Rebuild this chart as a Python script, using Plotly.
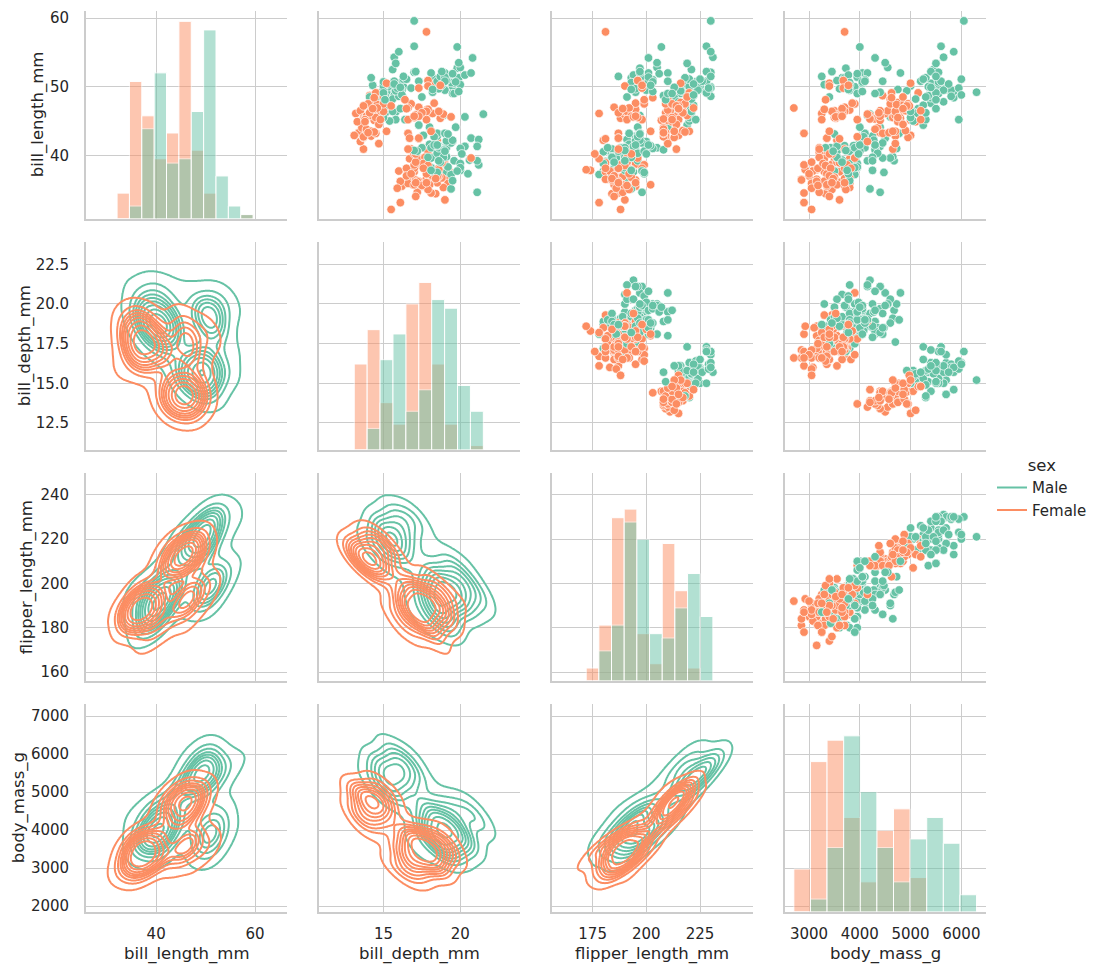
import numpy as np
import plotly.graph_objects as go

# ---------------- data (Adelie, then Gentoo, then Chinstrap rows) ----------------
bill_length_mm = [
    39.1, 39.5, 40.3, 36.7, 39.3, 38.9, 39.2, 41.1, 38.6, 34.6,
    36.6, 38.7, 42.5, 34.4, 46.0, 37.8, 37.7, 35.9, 38.2, 38.8,
    35.3, 40.6, 40.5, 37.9, 40.5, 39.5, 37.2, 39.5, 40.9, 36.4,
    39.2, 38.8, 42.2, 37.6, 39.8, 36.5, 40.8, 36.0, 44.1, 37.0,
    39.6, 41.1, 36.0, 42.3, 39.6, 40.1, 35.0, 42.0, 34.5, 41.4,
    39.0, 40.6, 36.5, 37.6, 35.7, 41.3, 37.6, 41.1, 36.4, 41.6,
    35.5, 41.1, 35.9, 41.8, 33.5, 39.7, 39.6, 45.8, 35.5, 42.8,
    40.9, 37.2, 36.2, 42.1, 34.6, 42.9, 36.7, 35.1, 37.3, 41.3,
    36.3, 36.9, 38.3, 38.9, 35.7, 41.1, 34.0, 39.6, 36.2, 40.8,
    38.1, 40.3, 33.1, 43.2, 35.0, 41.0, 37.7, 37.8, 37.9, 39.7,
    38.6, 38.2, 38.1, 43.2, 38.1, 45.6, 39.7, 42.2, 39.6, 42.7,
    38.6, 37.3, 35.7, 41.1, 36.2, 37.7, 40.2, 41.4, 35.2, 40.6,
    38.8, 41.5, 39.0, 44.1, 38.5, 43.1, 36.8, 37.5, 38.1, 41.1,
    35.6, 40.2, 37.0, 39.7, 40.2, 40.6, 32.1, 40.7, 37.3, 39.0,
    39.2, 36.6, 36.0, 37.8, 36.0, 41.5,
    46.1, 50.0, 48.7, 50.0, 47.6, 46.5, 45.4, 46.7, 43.3, 46.8,
    40.9, 49.0, 45.5, 48.4, 45.8, 49.3, 42.0, 49.2, 46.2, 48.7,
    50.2, 45.1, 46.5, 46.3, 42.9, 46.1, 47.8, 48.2, 50.0, 47.3,
    42.8, 45.1, 59.6, 49.1, 48.4, 42.6, 44.4, 44.0, 48.7, 42.7,
    49.6, 45.3, 49.6, 50.5, 43.6, 45.5, 50.5, 44.9, 45.2, 46.6,
    48.5, 45.1, 50.1, 46.5, 45.0, 43.8, 45.5, 43.2, 50.4, 45.3,
    46.2, 45.7, 54.3, 45.8, 49.8, 49.5, 43.5, 50.7, 47.7, 46.4,
    48.2, 46.5, 46.4, 48.6, 47.5, 51.1, 45.2, 45.2, 49.1, 52.5,
    47.4, 50.0, 44.9, 50.8, 43.4, 51.3, 47.5, 52.1, 47.5, 52.2,
    45.5, 49.5, 44.5, 50.8, 49.4, 46.9, 48.4, 51.1, 48.5, 55.9,
    47.2, 49.1, 46.8, 41.7, 53.4, 43.3, 48.1, 50.5, 49.8, 43.5,
    51.5, 46.2, 55.1, 48.8, 47.2, 46.8, 50.4, 45.2, 49.9,
    46.5, 50.0, 51.3, 45.4, 52.7, 45.2, 46.1, 51.3, 46.0, 51.3,
    46.6, 51.7, 47.0, 52.0, 45.9, 50.5, 50.3, 58.0, 46.4, 49.2,
    42.4, 48.5, 43.2, 50.6, 46.7, 52.0, 50.5, 49.5, 46.4, 52.8,
    40.9, 54.2, 42.5, 51.0, 49.7, 47.5, 47.6, 52.0, 46.9, 53.5,
    49.0, 46.2, 50.9, 45.5, 50.9, 50.8, 50.1, 49.0, 51.5, 49.8,
    48.1, 51.4, 45.7, 50.7, 42.5, 52.2, 45.2, 49.3, 50.2, 45.6,
    51.9, 46.8, 45.7, 55.8, 43.5, 49.6, 50.8, 50.2,
]

bill_depth_mm = [
    18.7, 17.4, 18.0, 19.3, 20.6, 17.8, 19.6, 17.6, 21.2, 21.1,
    17.8, 19.0, 20.7, 18.4, 21.5, 18.3, 18.7, 19.2, 18.1, 17.2,
    18.9, 18.6, 17.9, 18.6, 18.9, 16.7, 18.1, 17.8, 18.9, 17.0,
    21.1, 20.0, 18.5, 19.3, 19.1, 18.0, 18.4, 18.5, 19.7, 16.9,
    18.8, 19.0, 17.9, 21.2, 17.7, 18.9, 17.9, 19.5, 18.1, 18.6,
    17.5, 18.8, 16.6, 19.1, 16.9, 21.1, 17.0, 18.2, 17.1, 18.0,
    16.2, 19.1, 16.6, 19.4, 19.0, 18.4, 17.2, 18.9, 17.5, 18.5,
    16.8, 19.4, 16.1, 19.1, 17.2, 17.6, 18.8, 19.4, 17.8, 20.3,
    19.5, 18.6, 19.2, 18.8, 18.0, 18.1, 17.1, 18.1, 17.3, 18.9,
    18.6, 18.5, 16.1, 18.5, 17.9, 20.0, 16.0, 20.0, 18.6, 18.9,
    17.2, 20.0, 17.0, 19.0, 16.5, 20.3, 17.7, 19.5, 20.7, 18.3,
    17.0, 20.5, 17.0, 18.6, 17.2, 19.8, 17.0, 18.5, 15.9, 19.0,
    17.6, 18.3, 17.1, 18.0, 17.9, 19.2, 18.5, 18.5, 17.6, 17.5,
    17.5, 20.1, 16.5, 17.9, 17.1, 17.2, 15.5, 17.0, 16.8, 18.7,
    18.6, 18.4, 17.8, 18.1, 17.1, 18.5,
    13.2, 16.3, 14.1, 15.2, 14.5, 13.5, 14.6, 15.3, 13.4, 15.4,
    13.7, 16.1, 13.7, 14.6, 14.6, 15.7, 13.5, 15.2, 14.5, 15.1,
    14.3, 14.5, 14.5, 15.8, 13.1, 15.1, 15.0, 14.3, 15.3, 15.3,
    14.2, 14.5, 17.0, 14.8, 16.3, 13.7, 17.3, 13.6, 15.7, 13.7,
    16.0, 13.7, 15.0, 15.9, 13.9, 13.9, 15.9, 13.3, 15.8, 14.2,
    14.1, 14.4, 15.0, 14.4, 15.4, 13.9, 15.0, 14.5, 15.3, 13.8,
    14.9, 13.9, 15.7, 14.2, 16.8, 16.2, 14.2, 15.0, 15.0, 15.6,
    15.6, 14.8, 15.0, 16.0, 14.2, 16.3, 13.8, 16.4, 14.5, 15.6,
    14.6, 15.9, 13.8, 17.3, 14.4, 14.2, 14.0, 17.0, 15.0, 17.1,
    14.5, 16.1, 14.7, 15.7, 15.8, 14.6, 14.4, 16.5, 15.0, 17.0,
    15.5, 15.0, 16.1, 14.7, 15.8, 14.0, 15.1, 15.2, 15.9, 15.2,
    16.3, 14.1, 16.0, 16.2, 13.7, 14.3, 15.7, 14.8, 16.1,
    17.9, 19.5, 19.2, 18.7, 19.8, 17.8, 18.2, 18.2, 18.9, 19.9,
    17.8, 20.3, 17.3, 18.1, 17.1, 19.6, 20.0, 17.8, 18.6, 18.2,
    17.3, 17.5, 16.6, 19.4, 17.9, 19.0, 18.4, 19.0, 17.8, 20.0,
    16.6, 20.8, 16.7, 18.8, 18.6, 16.8, 18.3, 20.7, 16.6, 19.9,
    19.5, 17.5, 19.1, 17.0, 17.9, 18.5, 17.9, 19.6, 18.7, 17.3,
    16.4, 19.0, 17.3, 19.7, 17.3, 18.8, 16.6, 19.9, 18.8, 19.4,
    19.5, 16.5, 17.0, 19.8, 18.1, 18.2, 19.0, 18.7,
]

flipper_length_mm = [
    181, 186, 195, 193, 190, 181, 195, 182, 191, 198,
    185, 195, 197, 184, 194, 174, 180, 189, 185, 180,
    187, 183, 187, 172, 180, 178, 178, 188, 184, 195,
    196, 190, 180, 181, 184, 182, 195, 186, 196, 185,
    190, 182, 190, 191, 186, 188, 190, 200, 187, 191,
    186, 193, 181, 194, 185, 195, 185, 192, 184, 192,
    195, 188, 190, 198, 190, 190, 196, 197, 190, 195,
    191, 184, 187, 195, 189, 196, 187, 193, 191, 194,
    190, 189, 189, 190, 202, 205, 185, 186, 187, 208,
    190, 196, 178, 192, 192, 203, 183, 190, 193, 184,
    199, 190, 181, 197, 198, 191, 193, 197, 191, 196,
    188, 199, 189, 189, 187, 198, 176, 202, 186, 199,
    191, 195, 191, 210, 190, 197, 193, 199, 187, 190,
    191, 200, 185, 193, 193, 187, 188, 190, 192, 185,
    190, 184, 195, 193, 187, 201,
    211, 230, 210, 218, 215, 210, 211, 219, 209, 215,
    214, 216, 214, 213, 210, 217, 210, 221, 209, 222,
    218, 215, 213, 215, 215, 215, 215, 210, 220, 222,
    209, 207, 230, 220, 220, 213, 219, 208, 208, 208,
    225, 210, 216, 222, 217, 210, 225, 213, 215, 210,
    220, 210, 225, 217, 220, 208, 220, 208, 224, 208,
    221, 214, 231, 219, 230, 229, 220, 223, 216, 221,
    221, 217, 216, 230, 209, 220, 215, 223, 212, 221,
    212, 224, 212, 228, 218, 218, 212, 230, 218, 228,
    212, 224, 214, 226, 216, 222, 203, 225, 219, 228,
    215, 228, 215, 210, 219, 208, 209, 216, 229, 213,
    230, 217, 230, 222, 214, 215, 222, 212, 213,
    192, 196, 193, 188, 197, 198, 178, 197, 195, 198,
    193, 194, 185, 201, 190, 201, 197, 181, 190, 195,
    181, 191, 187, 193, 195, 197, 200, 200, 191, 205,
    187, 201, 187, 203, 195, 199, 195, 210, 192, 205,
    210, 187, 196, 196, 196, 201, 190, 212, 187, 198,
    199, 201, 193, 203, 187, 197, 191, 203, 202, 194,
    206, 189, 195, 207, 202, 193, 210, 198,
]

body_mass_g = [
    3750, 3800, 3250, 3450, 3650, 3625, 4675, 3200, 3800, 4400,
    3700, 3450, 4500, 3325, 4200, 3400, 3600, 3800, 3950, 3800,
    3800, 3550, 3200, 3150, 3950, 3250, 3900, 3300, 3900, 3325,
    4150, 3950, 3550, 3300, 4650, 3150, 3900, 3100, 4400, 3000,
    4600, 3425, 3450, 4150, 3500, 4300, 3450, 4050, 2900, 3700,
    3550, 3800, 2850, 3750, 3150, 4400, 3600, 4050, 2850, 3950,
    3350, 4100, 3050, 4450, 3600, 3900, 3550, 4150, 3700, 4250,
    3700, 3900, 3550, 4000, 3200, 4700, 3800, 4200, 3350, 3550,
    3800, 3500, 3950, 3600, 3550, 4300, 3400, 4450, 3300, 4300,
    3700, 4350, 2900, 4100, 3725, 4725, 3075, 4250, 2925, 3550,
    3750, 3900, 3175, 4775, 3825, 4600, 3200, 4275, 3900, 4075,
    2900, 3775, 3350, 3325, 3150, 3500, 3450, 3875, 3050, 4000,
    3275, 4300, 3050, 4000, 3325, 3500, 3500, 4475, 3425, 3900,
    3175, 3975, 3400, 4250, 3400, 3475, 3050, 3725, 3000, 3650,
    4250, 3475, 3450, 3750, 3700, 4000,
    4500, 5700, 4450, 5700, 5400, 4550, 4800, 5200, 4400, 5150,
    4650, 5550, 4650, 5850, 4200, 5850, 4150, 6300, 4800, 5350,
    5700, 5000, 4400, 5050, 5000, 5100, 5650, 4600, 5550, 5250,
    4700, 5050, 6050, 5150, 5400, 4950, 5250, 4350, 5350, 3950,
    5700, 4300, 4750, 5550, 4900, 4200, 5400, 5100, 5300, 4850,
    5300, 4400, 5000, 4900, 5050, 4300, 5000, 4450, 5550, 4200,
    5300, 4400, 5650, 4700, 5700, 5800, 4700, 5550, 4750, 5000,
    5100, 5200, 4700, 5800, 4600, 6000, 4750, 5950, 4625, 5450,
    4725, 5350, 4750, 5600, 4600, 5300, 4875, 5550, 4950, 5400,
    4750, 5650, 4850, 5200, 4925, 4875, 4625, 5250, 4850, 5600,
    4975, 5500, 5500, 4700, 5500, 4575, 5500, 5000, 5950, 4650,
    5500, 4375, 5850, 6000, 4925, 4850, 5750, 5200, 5400,
    3500, 3900, 3650, 3525, 3725, 3950, 3250, 3750, 4150, 3700,
    3800, 3775, 3700, 4050, 3575, 4050, 3300, 3700, 3450, 4400,
    3600, 3400, 2900, 3800, 3300, 4150, 3400, 3800, 3700, 4550,
    3200, 4300, 3350, 4100, 3600, 3900, 3850, 4800, 2700, 4500,
    3950, 3650, 3550, 3500, 3675, 4450, 3400, 4300, 3250, 3675,
    3325, 3950, 3600, 4050, 3350, 3450, 3250, 4050, 3800, 3525,
    3950, 3650, 3650, 4000, 3400, 3775, 4100, 3775,
]

sex_codes = (
    "MFFFMFMFMM" "FFMFMFMFMM" "FMFFMFMFMF" "MMFFMFMFMF" "MMFMFMFMFM"
    "FMFMFMFMFM" "FMFMFMFMFM" "FMFMFMFMFM" "MFMFFMFMFM" "FMFMFMFMFM"
    "FMFMFMFMFM" "FMFMFMFMFM" "FMFMFMFMFM" "FMFMFMFMFM" "MFFMFM"
    "FMFMMFFMFM" "FMFMFMFMFM" "MFFMFMMFMM" "FFMFMFMFMF" "MFMMFFMFMF"
    "MFMFMFMFMF" "MFMFMMFMFM" "MFFMFMFMFM" "FMFMFMFMFM" "FMFMMFFMFM"
    "FMMFMFMFMF" "MFMMFFMFM"
    "FMMFMFFMFM" "FMFMFMMFFM" "FMFMFMFMFM" "FMFMMFFMFM" "MFMFFMFMMF"
    "FMFMFMFMMF" "MFFMFMMF"
)
sex = ["Male" if c == "M" else "Female" for c in sex_codes]

variables = ["bill_length_mm", "bill_depth_mm", "flipper_length_mm", "body_mass_g"]
hue_order = ["Male", "Female"]

x_tick_values = {
    "bill_length_mm": [40, 60],
    "bill_depth_mm": [15, 20],
    "flipper_length_mm": [175, 200, 225],
    "body_mass_g": [3000, 4000, 5000, 6000],
}
y_tick_values = {
    "bill_length_mm": [40, 50, 60],
    "bill_depth_mm": [12.5, 15.0, 17.5, 20.0, 22.5],
    "flipper_length_mm": [160, 180, 200, 220, 240],
    "body_mass_g": [2000, 3000, 4000, 5000, 6000, 7000],
}
y_tick_labels = {
    "bill_length_mm": ["40", "50", "60"],
    "bill_depth_mm": ["12.5", "15.0", "17.5", "20.0", "22.5"],
    "flipper_length_mm": ["160", "180", "200", "220", "240"],
    "body_mass_g": ["2000", "3000", "4000", "5000", "6000", "7000"],
}

# ---------------- style ----------------
COLORS = {"Male": "#66c2a5", "Female": "#fc8d62"}
FONT = "DejaVu Sans"
TEXT = "#262626"
GRID = "#cccccc"
W, H = 1109, 977
COL_LEFT = [86.0, 318.9, 551.8, 784.7]
COL_W = 201.0
ROW_TOP = [9.5, 241.7, 473.9, 706.1]
ROW_H = 208.5
YLABEL_X = [38, 25, 27, 19]

cols = {
    "bill_length_mm": np.array(bill_length_mm, float),
    "bill_depth_mm": np.array(bill_depth_mm, float),
    "flipper_length_mm": np.array(flipper_length_mm, float),
    "body_mass_g": np.array(body_mass_g, float),
}
sex_arr = np.array(sex)
for v in variables:
    assert len(cols[v]) == len(sex_arr), (v, len(cols[v]), len(sex_arr))
N = len(sex_arr)
masks = {h: sex_arr == h for h in hue_order}


# ---------------- KDE (gaussian, scott bandwidth, cut=3, gridsize=200) ----------------
def kde_bw(values, n):
    factor = n ** (-1.0 / 6)
    return np.std(values, ddof=1) * factor


def kde2d(xv, yv, gridsize=200, cut=3):
    data = np.vstack([xv, yv])
    n = data.shape[1]
    factor = n ** (-1.0 / 6)
    cov = np.cov(data) * factor ** 2
    bw = np.sqrt(np.diag(cov))
    gx = np.linspace(xv.min() - cut * bw[0], xv.max() + cut * bw[0], gridsize)
    gy = np.linspace(yv.min() - cut * bw[1], yv.max() + cut * bw[1], gridsize)
    XX, YY = np.meshgrid(gx, gy)
    pts = np.vstack([XX.ravel(), YY.ravel()])
    inv = np.linalg.inv(cov)
    norm = 1.0 / (2 * np.pi * np.sqrt(np.linalg.det(cov)))
    dens = np.zeros(pts.shape[1])
    for i in range(n):
        d = pts - data[:, i:i + 1]
        dens += np.exp(-0.5 * np.sum(d * (inv @ d), axis=0))
    dens = dens * norm / n
    return gx, gy, dens.reshape(XX.shape)


kde_extent = {}
for v in variables:
    lo, hi = np.inf, -np.inf
    for h in hue_order:
        vals = cols[v][masks[h]]
        bw = kde_bw(vals, len(vals))
        lo = min(lo, vals.min() - 3 * bw)
        hi = max(hi, vals.max() + 3 * bw)
    kde_extent[v] = [lo, hi]


def data_extent(v):
    vals = cols[v]
    span = vals.max() - vals.min()
    return [vals.min() - 0.05 * span, vals.max() + 0.05 * span]


def x_range(c):
    v = variables[c]
    return kde_extent[v] if c < 3 else data_extent(v)


def y_range(r):
    v = variables[r]
    return kde_extent[v] if r > 0 else data_extent(v)


def col_domain(c):
    return [COL_LEFT[c] / W, (COL_LEFT[c] + COL_W) / W]


def row_domain(r):
    return [1 - (ROW_TOP[r] + ROW_H) / H, 1 - ROW_TOP[r] / H]


fig = go.Figure()
iso = np.linspace(0.05, 1, 10)
point_colors = [COLORS[s] for s in sex]
hist_max = 0

for r in range(4):
    for c in range(4):
        k = r * 4 + c + 1
        xa, ya = f"x{k}", f"y{k}"
        vx, vy = variables[c], variables[r]
        if r == c:
            vals = cols[vx]
            edges = np.histogram_bin_edges(vals, bins="auto")
            centers = (edges[:-1] + edges[1:]) / 2
            widths = np.diff(edges)
            for h in ["Female", "Male"]:
                counts, _ = np.histogram(vals[masks[h]], bins=edges)
                hist_max = max(hist_max, counts.max())
                fig.add_trace(go.Bar(
                    x=centers, y=counts, width=widths,
                    marker=dict(color=COLORS[h], line=dict(color="white", width=1)),
                    opacity=0.5, xaxis=xa, yaxis=ya,
                    showlegend=False, hoverinfo="skip"))
        elif r < c:
            fig.add_trace(go.Scatter(
                x=cols[vx], y=cols[vy], mode="markers",
                marker=dict(color=point_colors, size=8.6,
                            line=dict(color="white", width=0.7)),
                xaxis=xa, yaxis=ya, showlegend=False, hoverinfo="skip"))
        else:
            dens = {}
            grids = {}
            for h in hue_order:
                m = masks[h]
                gx, gy, d = kde2d(cols[vx][m], cols[vy][m])
                dens[h] = d * m.sum() / N
                grids[h] = (gx, gy)
            allv = np.concatenate([dens[h].ravel() for h in hue_order])
            sv = np.sort(allv)[::-1]
            nv = np.cumsum(sv) / allv.sum()
            idx = np.searchsorted(nv, 1 - iso)
            levels = np.take(sv, idx, mode="clip")
            xp = np.concatenate([[0.0], levels])
            fp = np.arange(len(xp), dtype=float)
            for h in hue_order:
                gx, gy = grids[h]
                z = np.round(np.interp(dens[h], xp, fp), 3)
                fig.add_trace(go.Contour(
                    x=np.round(gx, 4), y=np.round(gy, 4), z=z,
                    autocontour=False,
                    contours=dict(start=1, end=len(levels) - 1, size=1,
                                  coloring="lines", showlabels=False),
                    line=dict(width=2, smoothing=0.8),
                    colorscale=[[0, COLORS[h]], [1, COLORS[h]]],
                    showscale=False, xaxis=xa, yaxis=ya,
                    hoverinfo="skip", showlegend=False))

# diagonal histograms share one count scale
hist_top = hist_max * 1.05

for h in hue_order:
    fig.add_trace(go.Scatter(
        x=[None], y=[None], mode="lines", name=h,
        line=dict(color=COLORS[h], width=2),
        xaxis="x1", yaxis="y1", showlegend=True))

axis_common = dict(
    showgrid=True, gridcolor=GRID, gridwidth=1.3, zeroline=False,
    showline=True, linecolor=GRID, linewidth=1.7,
    ticks="outside", tickcolor="rgba(0,0,0,0)",
    tickfont=dict(family=FONT, size=15, color=TEXT),
)

layout = {}
for r in range(4):
    for c in range(4):
        k = r * 4 + c + 1
        vx, vy = variables[c], variables[r]
        layout[f"xaxis{k}"] = dict(
            axis_common, domain=col_domain(c), anchor=f"y{k}",
            range=x_range(c), tickvals=x_tick_values[vx],
            showticklabels=(r == 3), ticklen=7)
        lo, hi = y_range(r)
        if r == c:
            # diagonal: count axis; the row's gridlines sit at the row's tick values
            yr = [0, hist_top]
            tv = [(t - lo) / (hi - lo) * hist_top for t in y_tick_values[vy]]
        else:
            yr = [lo, hi]
            tv = y_tick_values[vy]
        layout[f"yaxis{k}"] = dict(
            axis_common, domain=row_domain(r), anchor=f"x{k}",
            range=yr, tickvals=tv, ticktext=y_tick_labels[vy],
            showticklabels=(c == 0), ticklen=12)

annotations = []
for c in range(4):
    annotations.append(dict(
        text=variables[c], xref="paper", yref="paper",
        x=(COL_LEFT[c] + COL_W / 2) / W, y=1 - 957 / H,
        xanchor="center", yanchor="middle", showarrow=False,
        font=dict(family=FONT, size=16.5, color=TEXT)))
for r in range(4):
    annotations.append(dict(
        text=variables[r], xref="paper", yref="paper",
        x=YLABEL_X[r] / W, y=1 - (ROW_TOP[r] + ROW_H / 2) / H,
        xanchor="center", yanchor="middle", showarrow=False, textangle=-90,
        font=dict(family=FONT, size=16.5, color=TEXT)))

fig.update_layout(
    width=W, height=H,
    margin=dict(l=0, r=0, t=0, b=0),
    paper_bgcolor="white", plot_bgcolor="white",
    barmode="overlay",
    font=dict(family=FONT, size=15, color=TEXT),
    annotations=annotations,
    legend=dict(
        title=dict(text="sex", side="top center",
                   font=dict(family=FONT, size=16.5, color=TEXT)),
        font=dict(family=FONT, size=15, color=TEXT),
        x=992 / W, y=1 - 450 / H, xanchor="left", yanchor="top",
        bgcolor="rgba(0,0,0,0)", itemwidth=30, tracegroupgap=0),
    **layout,
)

fig.write_html("out.html")
